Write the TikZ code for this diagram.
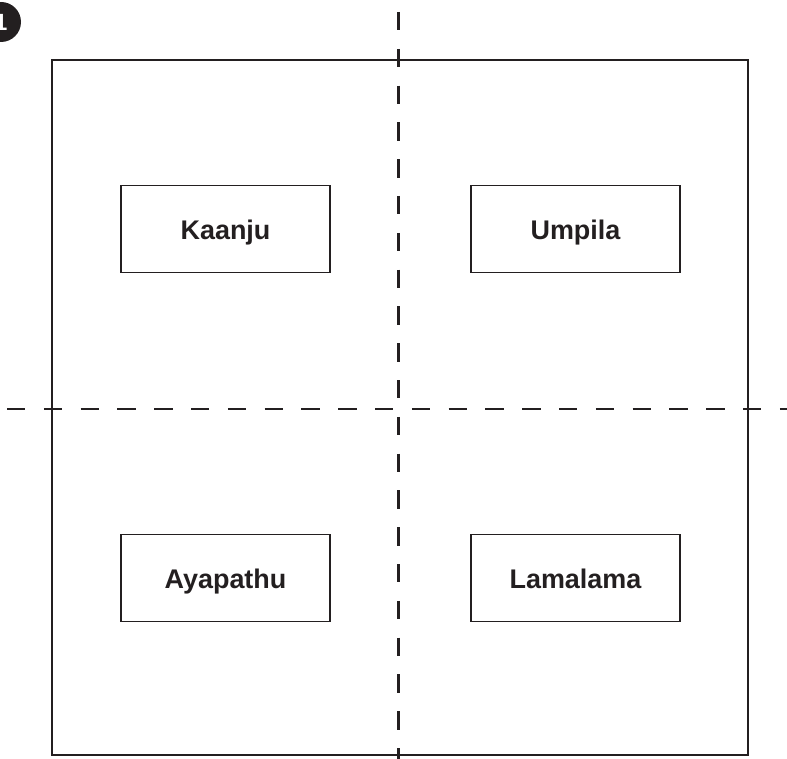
\documentclass[tikz,border=0pt]{standalone}
\usepackage{fontspec}
\setmainfont{Liberation Sans}
\usepackage{xcolor}
\usepackage{tikz}
\usetikzlibrary{positioning}
\definecolor{ink}{HTML}{231F20}

\begin{document}
\begin{tikzpicture}[x=0.3mm,y=-0.3mm,every node/.style={font=\fontsize{23}{27}\selectfont\bfseries,text=ink},
  group/.style={draw=ink,line width=1.3pt,minimum width=62.7mm,minimum height=26.2mm,inner sep=0pt,
    text height=18pt,text depth=0pt},
  axis/.style={draw=ink,line width=1.9pt,dash pattern=on 5.52mm off 5.52mm}]
  \useasboundingbox (0,0) rectangle (787,759);
  \node[draw=ink,line width=2pt,minimum width=208.8mm,minimum height=208.5mm,inner sep=0pt] (area) at (400,407.5) {};
  \node[group] (kaanju) at (225.5,229) {Kaanju};
  \node[group] (umpila) at (575.5,229) {Umpila};
  \node[group] (ayapathu) at (225.5,578) {Ayapathu};
  \node[group] (lamalama) at (575.5,578) {Lamalama};
  % quadrant axes
  \coordinate (top) at (398.5,12);
  \coordinate (bottom) at (398.5,770);
  \coordinate (left) at (7,409);
  \coordinate (right) at (800,409);
  \draw[axis] (top) -- (bottom);
  \draw[axis] (left) -- (right);
  \node[circle,fill=ink,minimum size=12mm,inner sep=0pt,text=white,font=\fontsize{20}{24}\selectfont\bfseries] (badge) at (1,22) {1};
\end{tikzpicture}
\end{document}
